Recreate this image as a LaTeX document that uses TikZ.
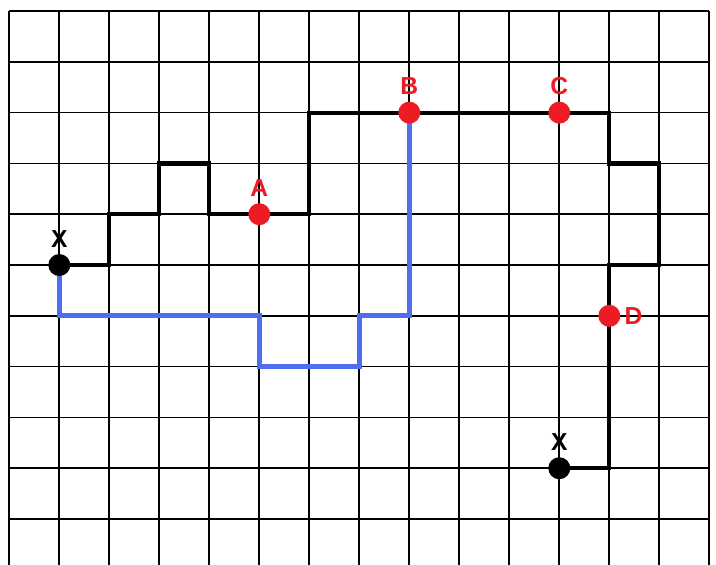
\documentclass[tikz,border=0pt]{standalone}
\usepackage{fontspec}
\setmainfont{Liberation Sans}
\usetikzlibrary{positioning}

\definecolor{dotred}{HTML}{ED1C24}
\definecolor{pathblue}{HTML}{4E6EF2}

\begin{document}
\begin{tikzpicture}[x=1cm, y=1.016cm,
    gridline/.style={line width=0.95pt, black},
    blackpath/.style={line width=2.4pt, black, line join=miter},
    bluepath/.style={line width=3pt, pathblue, line join=miter},
    dotbase/.style={circle, inner sep=0pt, minimum size=0.44cm},
    reddot/.style={dotbase, fill=dotred},
    blackdot/.style={dotbase, fill=black},
    lab/.style={inner sep=2pt, font=\fontsize{14}{17}\selectfont\bfseries},
    labred/.style={lab, text=dotred}]

\useasboundingbox (-0.186,-0.886) rectangle (14.134,10.217);

% grid
\foreach \i in {0,...,14}
  \draw[gridline] (\i,-1) -- (\i,10);
\foreach \j in {0,...,10}
  \draw[gridline] (0,\j) -- (14,\j);

\coordinate (X1) at (1,5);
\coordinate (X2) at (11,1);
\coordinate (A) at (5,6);
\coordinate (B) at (8,8);
\coordinate (C) at (11,8);
\coordinate (D) at (12,4);

% black route
\draw[blackpath] (X1) -- (2,5) |- (3,6) |- (4,7) |- (A) -- (6,6) |- (B)
  -- (C) -- (12,8) |- (13,7) |- (12,5) -- (D) |- (X2);

% blue route
\draw[bluepath] (X1) |- (5,4) |- (7,3) |- (8,4) -- (B);

% points
\node[blackdot, label={[lab, label distance=1.5pt]above:X}] (x1dot) at (X1) {};
\node[blackdot, label={[lab, label distance=1.5pt]above:X}] (x2dot) at (X2) {};
\node[reddot, label={[labred, label distance=1.5pt]above:A}] (adot) at (A) {};
\node[reddot, label={[labred, label distance=1.5pt]above:B}] (bdot) at (B) {};
\node[reddot, label={[labred, label distance=1.5pt]above:C}] (cdot) at (C) {};
\node[reddot, label={[labred, label distance=0pt]right:D}] (ddot) at (D) {};
\end{tikzpicture}
\end{document}
